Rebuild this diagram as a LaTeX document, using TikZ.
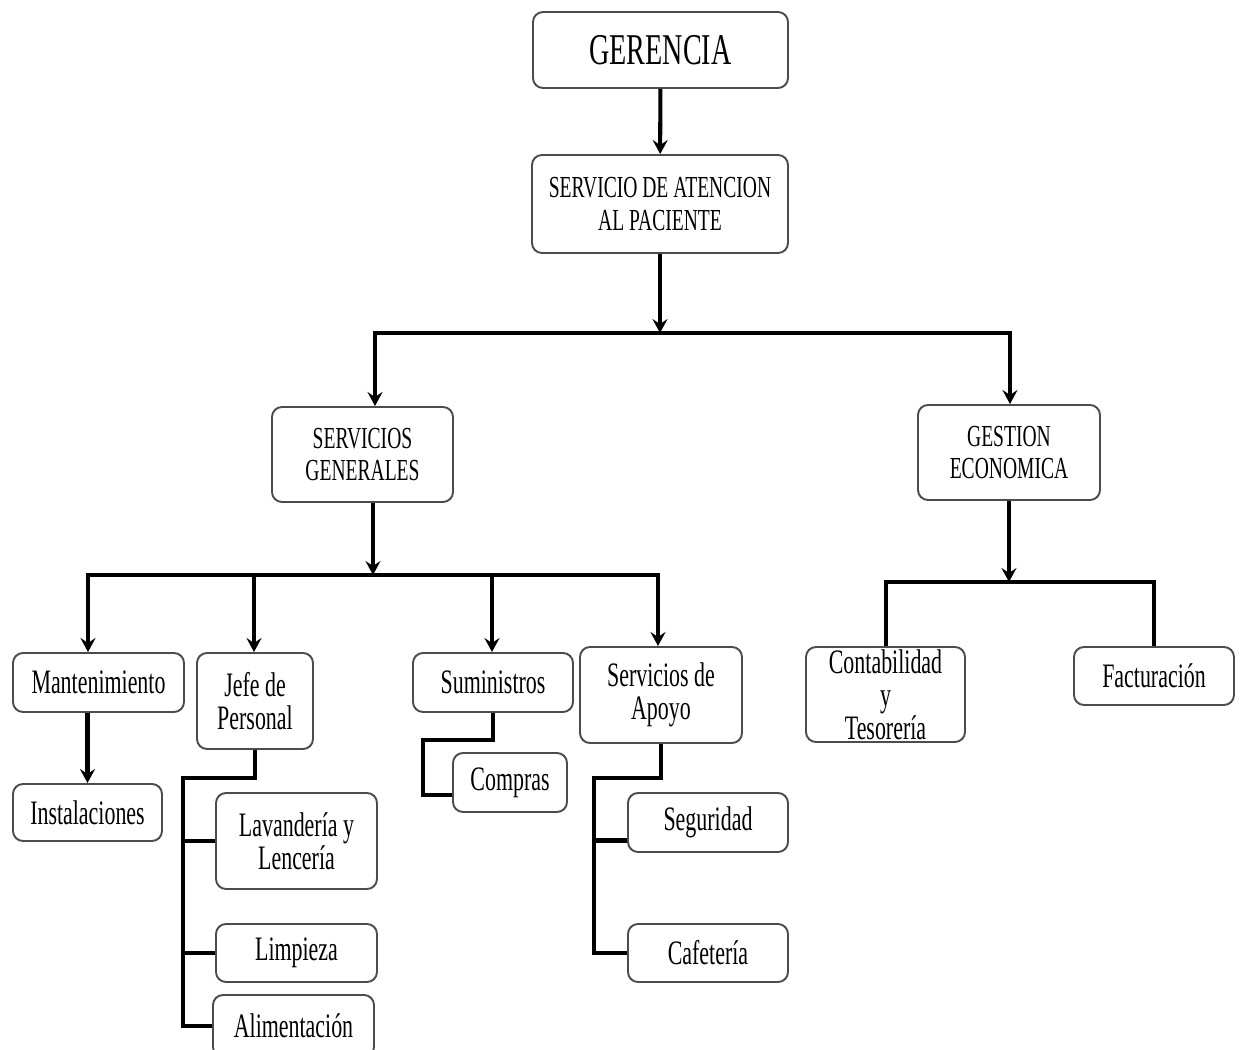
\documentclass[tikz,border=0pt]{standalone}
\usepackage{fontspec}
\setmainfont[FakeStretch=0.64]{Liberation Serif}
\usetikzlibrary{arrows.meta}
\begin{document}
\begin{tikzpicture}[x=0.02cm,y=-0.02cm,
 box/.style={draw=black!70, line width=1.1pt, rounded corners=0.2cm, align=center, inner sep=0pt, fill=white},
 up/.style={font=\fontsize{17.4}{18.6}\selectfont},
 lo/.style={font=\fontsize{19.5}{18.8}\selectfont},
 sz/.style 2 args={minimum width=#1*0.02cm, minimum height=#2*0.02cm},
 ln/.style={line width=2.3pt},
 tip/.tip={Stealth[length=0.28cm,width=0.3cm,inset=0.1cm]},
 arr/.style={line width=2.3pt, -tip}
]
\useasboundingbox (0,0) rectangle (1242,1050);

% nodes
\node[box,sz={255}{76},font=\fontsize{25}{28}\selectfont] (ger) at (660.5,50) {GERENCIA};
\node[box,up,sz={256}{98}] (sap) at (660,204) {SERVICIO DE ATENCION\\AL PACIENTE};
\node[box,up,sz={181}{95}] (sg) at (362.5,454.5) {SERVICIOS\\GENERALES};
\node[box,up,sz={182}{95}] (ge) at (1009,452.5) {GESTION\\ECONOMICA};
\node[box,lo,sz={171}{59}] (man) at (98.5,682.5) {Mantenimiento};
\node[box,lo,sz={116}{96}] (jef) at (255,701) {Jefe de\\Personal};
\node[box,lo,sz={160}{59}] (sum) at (493,682.5) {Suministros};
\node[box,lo,sz={162}{96}] (apo) at (661,695) {Servicios de\\Apoyo};
\node[box,lo,sz={149}{57}] (ins) at (87.5,812.5) {Instalaciones};
\node[box,lo,sz={161}{96}] (lav) at (296.5,841) {Lavandería y\\Lencería};
\node[box,lo,sz={161}{58}] (lim) at (296.5,953) {Limpieza};
\node[box,lo,sz={161}{62}] (ali) at (293.5,1026) {Alimentación};
\node[box,lo,sz={114}{59}] (com) at (510,782.5) {Compras};
\node[box,lo,sz={160}{59}] (seg) at (708,822.5) {Seguridad};
\node[box,lo,sz={160}{58}] (caf) at (708,953) {Cafetería};
\node[box,lo,sz={159}{95}] (con) at (885.5,694.5) {Contabilidad\\y\\Tesorería};
\node[box,lo,sz={160}{58}] (fac) at (1154,676) {Facturación};

% junctions
\coordinate (j1) at (660,333);
\coordinate (j1l) at (375,333);
\coordinate (j1r) at (1010,333);
\coordinate (j2) at (373,575);
\coordinate (j2a) at (88,575);
\coordinate (j2b) at (658,575);
\coordinate (j2c) at (254,575);
\coordinate (j2d) at (492,575);
\coordinate (j3) at (1009,582);
\coordinate (j3a) at (886,582);
\coordinate (j3b) at (1154,582);
\coordinate (k1) at (183,778);
\coordinate (k2) at (423,740);
\coordinate (k3) at (594,778);
\coordinate (comin) at ([yshift=-0.25cm]com.west);
\coordinate (segin) at ([yshift=-0.36cm]seg.west);

% connectors
\draw[arr] (ger) -- (sap);
\draw[arr] (sap) -- (j1);
\draw[ln,tip-tip] (j1l |- sg.north) -- (j1l) -- (j1r) -- (j1r |- ge.north);

\draw[arr] (j2 |- sg.south) -- (j2);
\draw[ln,tip-tip] (j2a |- man.north) -- (j2a) -- (j2b) -- (j2b |- apo.north);
\draw[arr] (j2c) -- (j2c |- jef.north);
\draw[arr] (j2d) -- (j2d |- sum.north);

\draw[arr] (ins.north |- man.south) -- (ins.north);

\draw[ln] (jef.south) |- (k1) -- (k1 |- ali.west) -- (ali.west);
\draw[ln] (k1 |- lav.west) -- (lav.west);
\draw[ln] (k1 |- lim.west) -- (lim.west);

\draw[ln] (sum.south) |- (k2) |- (comin);

\draw[ln] (apo.south) |- (k3) -- (k3 |- caf.west) -- (caf.west);
\draw[ln] (k3 |- segin) -- (segin);

\draw[arr] (ge) -- (j3);
\draw[ln] (j3a |- con.north) -- (j3a) -- (j3b) -- (j3b |- fac.north);
\end{tikzpicture}
\end{document}
